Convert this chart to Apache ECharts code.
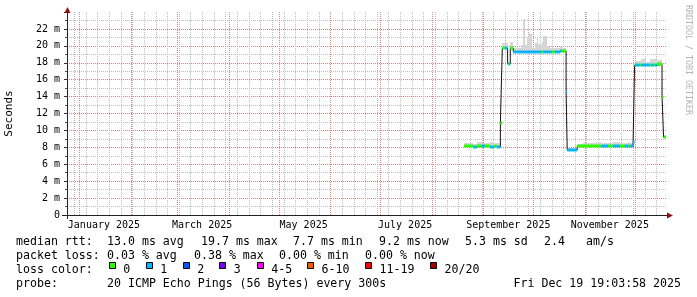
<!DOCTYPE html>
<html><head><meta charset="utf-8">
<script src="https://cdn.jsdelivr.net/npm/echarts@6/dist/echarts.min.js"></script>
<style>html,body{margin:0;padding:0;background:#fff}#c{width:697px;height:297px}</style>
</head><body><div id="c"></div>
<script>
// ---- data ----
const startTime = '2024-12-24 19:03';
const endTime = '2025-12-19 19:03';
const monthLines = ['2025-01-01 00:00','2025-02-01 00:00','2025-03-01 00:00','2025-04-01 00:00','2025-05-01 00:00','2025-06-01 00:00','2025-07-01 00:00','2025-08-01 00:00','2025-09-01 00:00','2025-10-01 00:00','2025-11-01 00:00','2025-12-01 00:00'];
const firstWeekLine = '2024-12-29 00:00';
const monthLabelTimes = ['2025-01-16 00:00','2025-03-16 00:00','2025-05-16 00:00','2025-07-16 00:00','2025-09-16 00:00','2025-11-16 00:00'];
const monthLabelText = ['January 2025','March 2025','May 2025','July 2025','September 2025','November 2025'];
const yMin = 0, yMax = 24, yStep = 2;

const times = [
'2025-08-20 12:00','2025-08-23 00:00','2025-08-26 00:00','2025-08-28 00:00','2025-08-31 00:00','2025-09-02 00:00','2025-09-05 00:00','2025-09-07 12:00','2025-09-09 00:00',
'2025-09-11 06:00','2025-09-12 10:00','2025-09-14 00:00','2025-09-15 14:00','2025-09-16 06:00','2025-09-17 05:00',
'2025-09-19 00:00','2025-09-20 00:00','2025-09-21 00:00','2025-09-22 00:00','2025-09-23 00:00','2025-09-24 00:00','2025-09-25 00:00','2025-09-26 00:00','2025-09-27 00:00','2025-09-28 00:00','2025-09-29 00:00','2025-09-30 00:00',
'2025-10-01 00:00','2025-10-02 00:00','2025-10-03 00:00','2025-10-04 00:00','2025-10-05 00:00','2025-10-06 00:00','2025-10-07 00:00','2025-10-08 00:00','2025-10-09 00:00','2025-10-10 00:00','2025-10-11 00:00','2025-10-12 00:00','2025-10-13 00:00','2025-10-14 00:00','2025-10-15 00:00','2025-10-16 00:00','2025-10-17 00:00','2025-10-18 00:00','2025-10-19 00:00','2025-10-20 04:00',
'2025-10-20 18:00','2025-10-21 10:00','2025-10-24 00:00','2025-10-27 10:00','2025-10-31 00:00','2025-11-04 00:00','2025-11-08 00:00','2025-11-11 00:00','2025-11-15 00:00','2025-11-18 00:00','2025-11-22 00:00','2025-11-25 00:00','2025-11-27 00:00','2025-11-28 00:00',
'2025-11-30 00:00','2025-11-30 22:00','2025-12-01 12:00','2025-12-04 00:00','2025-12-05 00:00','2025-12-08 00:00','2025-12-10 00:00','2025-12-11 00:00','2025-12-12 12:00','2025-12-13 06:00','2025-12-14 12:00','2025-12-17 10:00','2025-12-18 08:00'
];
// median rtt in ms
const median = [
8.1,8.1,8.05,8.1,8.1,8.1,8.05,8.1,8.05,
10.9,19.7,19.7,17.9,17.9,19.7,
19.3,19.3,19.3,19.3,19.3,19.3,19.3,19.3,19.3,19.3,19.3,19.3,
19.3,19.3,19.3,19.3,19.3,19.3,19.3,19.3,19.3,19.3,19.3,19.3,19.3,19.3,19.3,19.3,19.4,19.4,19.4,19.4,
14.6,7.7,7.7,8.1,8.1,8.1,8.1,8.1,8.1,8.1,8.1,8.1,8.1,8.1,
8.6,17.7,17.7,17.7,17.7,17.7,17.7,17.7,17.7,17.7,17.8,14.0,9.2
];
// lost pings (out of 20)
const loss = [
0,0,1,0,1,0,1,0,1,
0,0,1,0,1,0,
1,1,1,1,1,1,1,1,1,1,1,1,
1,1,1,1,1,0,1,1,1,1,1,0,0,1,1,1,1,0,0,0,
1,1,1,0,0,0,0,1,0,1,0,1,0,1,
1,0,1,0,1,1,0,1,0,1,0,0,0
];
// top of the smoke (max rtt) in ms
const smokeMax = [
8.5,8.5,8.4,8.6,8.5,8.5,8.6,8.5,8.5,
11.0,20.3,20.3,18.1,18.1,20.4,
19.8,19.8,19.9,19.8,19.8,20.1,23.2,20.1,21.0,21.5,21.4,19.9,
19.8,20.3,20.9,20.2,20.1,20.5,21.2,21.2,20.0,19.9,19.8,19.9,19.8,19.8,19.9,19.8,19.9,19.9,19.8,19.8,
14.8,7.9,7.9,8.4,8.5,8.5,8.6,8.5,8.5,8.6,8.5,8.5,8.6,8.5,
8.7,18.0,18.2,18.2,18.4,18.1,18.4,18.5,18.4,18.5,18.3,14.1,9.3
];

const lossLegend = ['0','1','2','3','4-5','6-10','11-19','20/20'];
const lossColors = ['#26ff00','#00b8ff','#0059ff','#7e00ff','#ff00ff','#ff5500','#ff0000','#a10000'];
const lossBucket = [0,1,2,3,4,4,5,5,5,5,5,6,6,6,6,6,6,6,6,6,7];
const rttStats = ['median rtt:','13.0 ms avg','19.7 ms max','7.7 ms min','9.2 ms now','5.3 ms sd','2.4','am/s'];
const lossStats = ['packet loss:','0.03 % avg','0.38 % max','0.00 % min','0.00 % now'];
const probeText = ['probe:','20 ICMP Echo Pings (56 Bytes) every 300s'];
const stampText = 'Fri Dec 19 19:03:58 2025';
const watermark = 'RRDTOOL / TOBI OETIKER';

// ---- build ----
const T = s => Date.parse(s.replace(' ', 'T') + ':00Z');
const startTs = T(startTime), endTs = T(endTime);
const tsArr = times.map(T);
const last = median.length - 1;
const medianData = tsArr.map((t, i) => [t, median[i]]).concat([[endTs, median[last]]]);
const segData = tsArr.map((t, i) => [t, i < last ? tsArr[i + 1] : endTs, median[i], loss[i], smokeMax[i]]);
const labelTs = monthLabelTimes.map(T);

const RED = '#ea8080', GRAY = '#bdbdbd', ARROW = '#8e0f0f';
const gridData = [];
for (let t = T(firstWeekLine); t < endTs; t += 7 * 864e5) gridData.push([t, yMin, 0]);
monthLines.forEach(s => gridData.push([T(s), yMin, 1]));

// layout
const GL = 67, GT = 12, GR = 31, GB = 82, W = 697, H = 297;
const axisY = H - GB + 0.5, axisX = GL + 0.5;

const FONT = '"DejaVu Sans Mono", monospace';
const LF = '11.6px ' + FONT;
const graphics = [];
function txt(s, x, y) {
  graphics.push({ type: 'text', x: x, y: y, silent: true,
    style: { text: s, font: LF, fill: '#000', textAlign: 'left', textVerticalAlign: 'middle' } });
}
const rows = [242, 256, 270, 283.8];
const rttX = [16, 107, 201, 293, 379, 465, 544, 586];
rttStats.forEach((s, i) => txt(s, rttX[i], rows[0]));
const lossX = [16, 107, 194, 279, 365];
lossStats.forEach((s, i) => txt(s, lossX[i], rows[1]));
txt('loss color:', 16, rows[2]);
const boxX = [108.7, 145.7, 182.7, 219.3, 256.7, 307, 365, 430];
lossLegend.forEach((s, i) => {
  graphics.push({ type: 'rect', silent: true, shape: { x: Math.round(boxX[i]) + 0.5, y: 262.5, width: 6, height: 6 },
    style: { fill: lossColors[i], stroke: '#000', lineWidth: 1 } });
  txt(s, boxX[i] + 14.5, rows[2]);
});
txt(probeText[0], 16, rows[3]);
txt(probeText[1], 107, rows[3]);
graphics.push({ type: 'text', x: 681, y: rows[3], silent: true,
  style: { text: stampText, font: LF, fill: '#000', textAlign: 'right', textVerticalAlign: 'middle' } });
graphics.push({ type: 'text', x: 688, y: 5, rotation: -Math.PI / 2, silent: true,
  style: { text: watermark, font: '8.3px ' + FONT, fill: '#b4b4b4', textAlign: 'left', textVerticalAlign: 'middle' } });
// axis extensions and arrow heads
graphics.push({ type: 'line', silent: true, z: 50, shape: { x1: GL - 5, y1: axisY, x2: W - GR + 2, y2: axisY }, style: { stroke: '#222', lineWidth: 1 } });
graphics.push({ type: 'line', silent: true, z: 50, shape: { x1: axisX, y1: H - GB + 4, x2: axisX, y2: GT - 2 }, style: { stroke: '#222', lineWidth: 1 } });
graphics.push({ type: 'polygon', silent: true, z: 51, shape: { points: [[axisX - 3, GT + 1], [axisX + 3, GT + 1], [axisX, GT - 5]] }, style: { fill: ARROW } });
graphics.push({ type: 'polygon', silent: true, z: 51, shape: { points: [[W - GR + 1, axisY - 3], [W - GR + 1, axisY + 3], [W - GR + 7, axisY]] }, style: { fill: ARROW } });

const chart = echarts.init(document.getElementById('c'), null, { renderer: 'canvas' });
chart.setOption({
  animation: false,
  backgroundColor: '#fff',
  grid: { left: GL, right: GR, top: GT, bottom: GB, containLabel: false, outerBoundsMode: 'none' },
  xAxis: {
    type: 'value', min: startTs, max: endTs,
    axisLine: { show: true, onZero: false, lineStyle: { color: '#222', width: 1 } },
    axisTick: { show: false },
    splitLine: { show: false },
    axisLabel: { customValues: labelTs, hideOverlap: false, margin: 5, color: '#000', fontFamily: FONT, fontSize: 10,
      formatter: v => { const i = labelTs.indexOf(v); return i >= 0 ? monthLabelText[i] : ''; } }
  },
  yAxis: {
    type: 'value', min: yMin, max: yMax, interval: yStep,
    name: 'Seconds', nameLocation: 'middle', nameGap: 52, nameRotate: 90,
    nameTextStyle: { fontFamily: FONT, fontSize: 11, color: '#000' },
    axisLine: { show: true, lineStyle: { color: '#222', width: 1 } },
    axisTick: { show: true, length: 3, lineStyle: { color: '#333' } },
    minorTick: { show: true, splitNumber: 2, length: 2, lineStyle: { color: '#555' } },
    axisLabel: { margin: 7, color: '#000', fontFamily: FONT, fontSize: 10,
      formatter: v => v === 0 ? '0' : (v >= yMax ? '' : v + ' m') },
    splitLine: { show: true, showMinLine: false, showMaxLine: false, lineStyle: { color: RED, type: [1, 1], width: 1 } },
    minorSplitLine: { show: true, lineStyle: { color: GRAY, type: [1, 1], width: 1 } }
  },
  graphic: graphics,
  series: [
    { type: 'custom', name: 'xgrid', silent: true, z: 1, data: gridData, encode: { x: 0, y: 1 },
      renderItem: (params, api) => {
        const pb = api.coord([api.value(0), yMin]);
        const pt = api.coord([api.value(0), yMax]);
        const x = Math.round(pb[0]) + 0.5;
        return { type: 'line', z2: api.value(2), shape: { x1: x, y1: pb[1], x2: x, y2: pt[1] },
          style: { stroke: api.value(2) ? RED : GRAY, lineWidth: 1, lineDash: [1, 1] } };
      } },
    { type: 'custom', name: 'smoke', silent: true, z: 3, data: segData, encode: { x: [0, 1], y: [2, 4] },
      renderItem: (params, api) => {
        const p0 = api.coord([api.value(0), api.value(2)]);
        const p1 = api.coord([api.value(1), api.value(4)]);
        const x0 = Math.round(p0[0]), x1 = Math.max(Math.round(p1[0]), x0 + 1);
        return { type: 'rect', shape: { x: x0, y: Math.round(p1[1]), width: x1 - x0, height: Math.round(p0[1]) - Math.round(p1[1]) },
          style: { fill: '#d6d6d6' } };
      } },
    { type: 'line', name: 'median', step: 'end', data: medianData, symbol: 'none', silent: true,
      lineStyle: { color: '#111', width: 1 }, z: 4 },
    { type: 'custom', name: 'loss', silent: true, z: 5, data: segData, encode: { x: [0, 1], y: 2 },
      renderItem: (params, api) => {
        const p0 = api.coord([api.value(0), api.value(2)]);
        const p1 = api.coord([api.value(1), api.value(2)]);
        const c = lossColors[lossBucket[api.value(3)]];
        return { type: 'rect', shape: { x: p0[0], y: Math.round(p0[1]) - 1.5, width: Math.max(p1[0] - p0[0], 1), height: 3 },
          style: { fill: c } };
      } }
  ]
});
</script>
</body></html>
